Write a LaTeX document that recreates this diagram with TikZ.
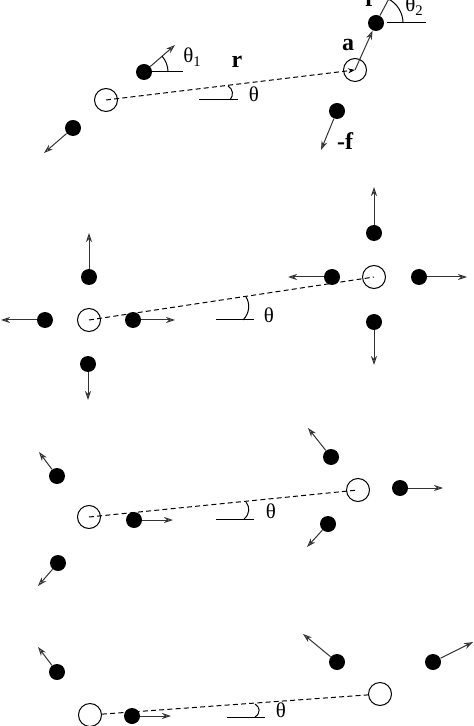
\documentclass[tikz,border=0pt]{standalone}
\usepackage{fontspec}
\setmainfont{Liberation Serif}
\usetikzlibrary{arrows.meta}
\begin{document}
\begin{tikzpicture}[x=0.5pt, y=-0.5pt,
  dot/.style={shape=circle,fill=black,inner sep=0pt,minimum size=8pt},
  site/.style={shape=circle,draw=black,line width=0.5pt,inner sep=0pt,minimum size=11.5pt},
  vec/.style={-{Stealth[open,length=4.5pt,width=3pt]},line width=0.5pt,draw=black!80},
  link/.style={line width=0.5pt,dash pattern=on 2.5pt off 1.6pt},
  axis/.style={line width=0.5pt},
  lab/.style={inner sep=0pt,anchor=base,font=\bfseries\fontsize{12}{14}\selectfont},
  ang/.style={inner sep=0pt,anchor=base,font=\fontsize{10.5}{12}\selectfont}]
\useasboundingbox (0,0) rectangle (474,726);
\clip (0,0) rectangle (474,726);
\node[site] (cl1) at (106,100) {};
\node[site] (cr1) at (355,70) {};
\node[dot] (u1) at (144,72) {};
\node[dot] (v1) at (73,128) {};
\node[dot] (w1) at (376,23) {};
\node[dot] (x1) at (337,111) {};
\coordinate (tu1) at (175,45);
\coordinate (tv1) at (44,153);
\coordinate (tw1) at (393,-9);
\coordinate (tx1) at (321,150);
\draw[link,-{Stealth[length=3.5pt,width=2.5pt]}] (cl1.center) -- (cr1.center);
\draw[vec] (u1) -- (tu1);
\draw[vec] (v1) -- (tv1);
\draw[vec] (w1) -- (tw1);
\draw[vec] (x1) -- (tx1);
\draw[vec] (cr1.center) -- (w1);
\draw[axis] (u1.east) -- (183,72);
\draw[axis] (168,72) arc[start angle=0,end angle=-41,radius=24];
\draw[axis] (387,23) -- (426,23);
\draw[axis] (403,23) arc[start angle=0,end angle=-63,radius=27];
\draw[axis] (199,100) -- (238,100);
\draw[axis] (230,100) .. controls (234,95) and (233,89) .. (228,86);
\node[lab] (r) at (237,68) {r};
\node[lab] (a) at (348,51) {a};
\node[lab] (f) at (369,7) {f};
\node[lab] (mf) at (345,150) {-f};
\node[ang] (th1) at (254,102) {θ};
\node[ang,anchor=base west] (thu) at (183,63) {θ\textsubscript{1}};
\node[ang,anchor=base west] (thw) at (405,12) {θ\textsubscript{2}};
\node[site] (cl2) at (89,320) {};
\node[site] (cr2) at (374,277) {};
\node[dot] (n2) at (89,277) {};
\node[dot] (w2) at (45,320) {};
\node[dot] (e2) at (133,320) {};
\node[dot] (s2) at (88,364) {};
\node[dot] (nr2) at (374,233) {};
\node[dot] (wr2) at (332,277) {};
\node[dot] (er2) at (419,277) {};
\node[dot] (sr2) at (374,322) {};
\coordinate (tn2) at (89,233);
\coordinate (tw2) at (1,320);
\coordinate (te2) at (175,320);
\coordinate (ts2) at (88,400);
\coordinate (tnr2) at (374,187);
\coordinate (twr2) at (288,277);
\coordinate (ter2) at (467,277);
\coordinate (tsr2) at (374,365);
\draw[link] (cl2.center) -- (cr2.center);
\draw[vec] (n2) -- (tn2);
\draw[vec] (w2) -- (tw2);
\draw[vec] (e2) -- (te2);
\draw[vec] (s2) -- (ts2);
\draw[vec] (nr2) -- (tnr2);
\draw[vec] (wr2) -- (twr2);
\draw[vec] (er2) -- (ter2);
\draw[vec] (sr2) -- (tsr2);
\draw[axis] (216,320) -- (254,320);
\draw[axis] (243,320) .. controls (250,313) and (250,303) .. (246,297);
\node[ang] (th2) at (269,322) {θ};
\node[site] (cl3) at (89,517) {};
\node[site] (cr3) at (358,490) {};
\node[dot] (a3) at (134,520) {};
\node[dot] (b3) at (57,476) {};
\node[dot] (c3) at (58,563) {};
\node[dot] (d3) at (331,457) {};
\node[dot] (e3) at (328,524) {};
\node[dot] (g3) at (400,488) {};
\coordinate (ta3) at (173,520);
\coordinate (tb3) at (39,452);
\coordinate (tc3) at (38,586);
\coordinate (td3) at (308,428);
\coordinate (te3) at (307,547);
\coordinate (tg3) at (443,488);
\draw[link] (cl3.center) -- (cr3.center);
\draw[vec] (a3) -- (ta3);
\draw[vec] (b3) -- (tb3);
\draw[vec] (c3) -- (tc3);
\draw[vec] (d3) -- (td3);
\draw[vec] (e3) -- (te3);
\draw[vec] (g3) -- (tg3);
\draw[axis] (216,519) -- (254,519);
\draw[axis] (244,519) .. controls (250,514) and (250,507) .. (246,502);
\node[ang] (th3) at (271,518) {θ};
\node[site] (cl4) at (90,715) {};
\node[site] (cr4) at (380,694) {};
\node[dot] (a4) at (132,716) {};
\node[dot] (b4) at (57,672) {};
\node[dot] (d4) at (337,662) {};
\node[dot] (g4) at (433,662) {};
\coordinate (ta4) at (171,716);
\coordinate (tb4) at (38,647);
\coordinate (td4) at (303,634);
\coordinate (tg4) at (473,642);
\draw[link] (cl4) -- (cr4);
\draw[vec] (a4) -- (ta4);
\draw[vec] (b4) -- (tb4);
\draw[vec] (d4) -- (td4);
\draw[vec] (g4) -- (tg4);
\draw[axis] (227,717) -- (265,717);
\draw[axis] (255,717) .. controls (261,713) and (260,707) .. (255,704);
\node[ang] (th4) at (281,717) {θ};
\end{tikzpicture}
\end{document}
